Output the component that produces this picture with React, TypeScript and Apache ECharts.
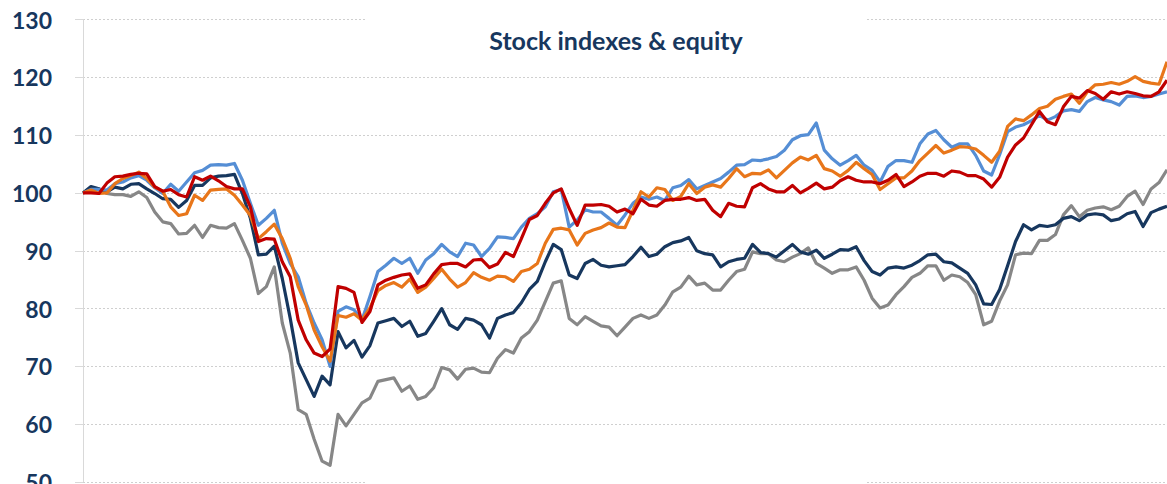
import React, { useEffect, useRef } from "react";
import * as echarts from "echarts";

const lightBlue = [
  100.0, 100.6, 100.6, 100.5, 101.6, 101.9, 102.6, 103.0, 102.2, 100.9,
  99.9, 101.5, 100.3, 101.9, 103.5, 103.9, 104.8, 104.9, 104.8, 105.1,
  102.2, 98.2, 94.4, 95.6, 97.0, 91.3, 87.8, 85.5, 80.9, 77.5,
  74.6, 70.0, 79.5, 80.3, 79.8, 78.0, 82.1, 86.4, 87.5, 88.7,
  87.8, 88.7, 86.1, 88.4, 89.5, 91.1, 89.8, 89.0, 91.3, 91.0,
  89.0, 90.4, 92.4, 92.3, 92.1, 94.1, 95.6, 96.4, 97.6, 100.2,
  100.6, 94.1, 95.3, 97.1, 96.7, 96.7, 95.6, 94.4, 96.2, 98.2,
  99.3, 98.9, 99.3, 98.7, 100.9, 101.3, 102.3, 100.7, 101.3, 101.9,
  102.5, 103.6, 104.8, 104.9, 105.7, 105.6, 105.9, 106.3, 107.4, 109.2,
  109.9, 110.1, 112.1, 107.4, 105.9, 104.8, 105.6, 106.5, 104.8, 103.9,
  101.9, 104.6, 105.6, 105.6, 105.3, 108.5, 110.2, 110.8, 109.2, 107.9,
  108.5, 108.5, 106.5, 103.8, 103.1, 106.6, 110.6, 111.4, 111.8, 112.5,
  113.4, 112.6, 113.2, 114.2, 114.4, 114.1, 115.8, 116.5, 116.1, 115.8,
  115.2, 116.7, 116.8, 116.5, 116.7, 117.1, 117.5,
];

const orange = [
  100.0, 100.5, 99.9, 100.0, 101.6, 102.5, 103.0, 103.6, 102.5, 101.0,
  100.3, 97.6, 96.1, 96.4, 99.6, 98.7, 100.5, 100.6, 100.7, 99.6,
  97.9, 96.1, 92.1, 93.3, 94.6, 92.1, 88.7, 83.8, 80.6, 76.3,
  73.4, 70.9, 78.8, 78.5, 79.1, 78.0, 80.1, 83.1, 84.0, 84.5,
  83.7, 85.1, 82.8, 83.7, 85.2, 86.8, 85.1, 83.7, 84.5, 86.2,
  85.4, 84.9, 85.6, 85.5, 84.7, 86.4, 86.8, 87.8, 91.3, 93.7,
  93.9, 93.6, 91.0, 93.0, 93.6, 94.0, 94.8, 94.1, 94.0, 97.0,
  100.2, 99.3, 100.9, 100.6, 98.7, 99.4, 101.6, 99.9, 101.0, 101.4,
  101.0, 102.5, 104.2, 102.8, 103.4, 103.3, 104.0, 102.6, 103.9, 105.2,
  106.2, 105.7, 106.5, 104.2, 103.8, 102.9, 103.9, 105.3, 104.2, 103.2,
  100.6, 101.6, 102.6, 102.6, 103.8, 105.6, 106.9, 108.2, 106.9, 107.4,
  108.0, 107.9, 107.6, 106.5, 105.3, 107.2, 111.5, 112.8, 112.5, 113.5,
  114.6, 115.0, 116.2, 116.7, 117.1, 115.5, 117.5, 118.7, 118.8, 119.1,
  118.8, 119.3, 120.1, 119.3, 119.0, 118.8, 122.7,
];

const red = [
  100.0, 100.0, 99.9, 101.7, 102.8, 102.9, 103.2, 103.4, 103.3, 101.1,
  100.3, 100.6, 99.7, 99.3, 102.8, 102.2, 102.9, 102.1, 101.1, 100.7,
  100.7, 97.6, 91.6, 92.1, 92.0, 88.1, 85.5, 78.0, 74.6, 72.3,
  71.7, 73.0, 83.8, 83.5, 82.8, 77.6, 79.5, 84.1, 84.9, 85.4,
  85.8, 86.0, 83.5, 84.1, 86.0, 87.6, 87.8, 87.8, 87.2, 88.4,
  88.5, 87.1, 87.7, 89.7, 89.0, 92.1, 95.4, 96.1, 98.2, 100.0,
  100.7, 97.3, 94.4, 97.9, 97.9, 98.0, 97.7, 96.7, 97.2, 96.4,
  98.9, 97.9, 97.7, 98.7, 98.9, 98.9, 99.2, 98.7, 98.9, 97.0,
  95.9, 98.2, 97.7, 97.6, 100.9, 101.6, 100.7, 100.2, 100.2, 101.3,
  100.0, 100.8, 101.7, 100.7, 101.0, 102.1, 102.8, 102.2, 101.9, 101.9,
  101.6, 102.2, 103.2, 101.1, 101.9, 102.9, 103.4, 103.4, 102.9, 103.8,
  103.6, 103.0, 103.0, 102.4, 101.0, 102.7, 106.2, 108.3, 109.5, 111.8,
  114.1, 112.3, 111.8, 114.9, 116.7, 116.4, 117.7, 117.2, 116.2, 117.5,
  117.1, 117.5, 117.2, 116.8, 116.7, 117.5, 119.5,
];

const navy = [
  100.0, 101.1, 100.7, 100.2, 101.0, 100.7, 101.5, 101.6, 100.7, 99.9,
  99.0, 98.9, 97.5, 98.7, 101.3, 101.3, 102.6, 102.9, 103.0, 103.2,
  99.9, 95.6, 89.3, 89.4, 90.8, 85.2, 78.3, 70.6, 67.7, 64.8,
  68.3, 66.8, 76.0, 73.2, 74.5, 71.6, 73.6, 77.5, 77.9, 78.3,
  76.9, 77.8, 75.2, 75.7, 77.8, 80.0, 77.2, 76.4, 78.3, 78.0,
  77.2, 74.9, 78.3, 78.9, 79.3, 81.0, 83.3, 84.7, 88.1, 91.1,
  90.2, 85.8, 85.2, 87.8, 88.5, 87.5, 87.2, 87.4, 87.6, 89.0,
  90.6, 89.0, 89.4, 90.7, 91.4, 91.7, 92.3, 90.0, 89.5, 89.3,
  87.2, 88.1, 88.5, 88.7, 91.1, 89.7, 89.5, 88.9, 90.0, 91.1,
  89.8, 89.4, 90.1, 88.7, 89.4, 90.2, 90.1, 90.7, 88.3, 86.4,
  85.8, 87.0, 87.2, 87.0, 87.5, 88.3, 89.3, 89.4, 88.1, 87.9,
  87.0, 86.1, 84.1, 80.8, 80.7, 83.3, 87.4, 91.6, 94.5, 93.6,
  94.4, 94.2, 94.5, 95.6, 95.9, 95.2, 96.2, 96.4, 96.2, 95.2,
  95.5, 96.4, 96.8, 94.2, 96.6, 97.2, 97.7,
];

const gray = [
  100.0, 100.9, 100.7, 99.9, 99.7, 99.7, 99.4, 100.2, 99.2, 96.7,
  95.0, 94.7, 92.9, 93.0, 94.4, 92.3, 94.4, 94.0, 93.9, 94.7,
  91.8, 88.7, 82.6, 83.8, 87.2, 77.5, 72.3, 62.5, 61.7, 57.4,
  53.6, 52.9, 61.7, 59.7, 61.7, 63.7, 64.5, 67.4, 67.7, 68.0,
  65.7, 66.6, 64.3, 64.8, 66.3, 69.8, 69.4, 67.8, 69.5, 69.7,
  69.0, 68.9, 71.4, 72.9, 72.3, 74.9, 76.0, 78.0, 81.2, 84.4,
  84.8, 78.3, 77.2, 78.6, 77.8, 77.0, 76.8, 75.3, 76.8, 78.3,
  78.9, 78.3, 78.9, 80.6, 82.9, 83.7, 85.6, 84.1, 84.4, 83.2,
  83.2, 84.9, 86.4, 86.8, 89.8, 89.5, 89.5, 88.4, 88.1, 88.9,
  89.5, 90.5, 87.8, 87.0, 86.1, 86.7, 86.7, 87.2, 84.9, 81.8,
  80.1, 80.6, 82.4, 83.8, 85.4, 86.1, 87.4, 87.4, 84.9, 85.8,
  85.5, 84.5, 82.4, 77.2, 77.8, 81.3, 84.1, 89.3, 89.6, 89.5,
  91.8, 91.8, 92.8, 96.2, 97.8, 95.9, 97.0, 97.4, 97.6, 97.1,
  97.7, 99.4, 100.3, 98.0, 100.7, 101.8, 104.0,
];

const categories = lightBlue.map((_, i) => String(i + 1));
const yTicks = { min: 50, max: 130, interval: 10 };
const titleText = "Stock indexes & equity";

const NAVY = "#17375E";
const FONT = "Lato, 'Noto Sans', sans-serif";
const W = 1167;
const H = 484;

export default function App() {
  const ref = useRef<HTMLDivElement>(null);
  useEffect(() => {
    if (!ref.current) return;
    const chart = echarts.init(ref.current, undefined, { renderer: "svg", width: W, height: H });
    const mk = (name: string, data: number[], color: string, z: number) => ({
      name,
      type: "line",
      data,
      symbol: "none",
      z,
      lineStyle: { color, width: 3.2, join: "round" },
      itemStyle: { color },
    });
    chart.setOption({
      animation: false,
      backgroundColor: "#ffffff",
      grid: {
        left: 83,
        right: 0,
        top: 19.5,
        bottom: 2,
        containLabel: false,
        outerBoundsMode: "none",
      },
      xAxis: {
        type: "category",
        data: categories,
        boundaryGap: false,
        axisLine: { show: false },
        axisTick: { show: false },
        axisLabel: { show: false },
        splitLine: { show: false },
      },
      yAxis: {
        type: "value",
        min: yTicks.min,
        max: yTicks.max,
        interval: yTicks.interval,
        axisLine: { show: true, lineStyle: { color: "#D9D9D9", width: 1 } },
        axisTick: { show: true, length: 8, lineStyle: { color: "#D9D9D9", width: 1 } },
        axisLabel: {
          color: NAVY,
          fontWeight: "bold",
          fontSize: 23,
          fontFamily: FONT,
          margin: 31,
        },
        splitLine: {
          show: true,
          lineStyle: { color: "#CFCFCF", type: [2, 2], width: 1 },
        },
      },
      graphic: [
        { type: "rect", z: 1, shape: { x: 367, y: 0, width: 500, height: 30 }, style: { fill: "#ffffff" } },
        { type: "rect", z: 1, shape: { x: 367, y: 472, width: 500, height: 12 }, style: { fill: "#ffffff" } },
        {
          type: "text",
          z: 10,
          x: 616,
          y: 40,
          style: {
            text: titleText,
            fill: NAVY,
            font: `bold 25px ${FONT}`,
            textAlign: "center",
            textVerticalAlign: "middle",
          },
        },
      ],
      series: [
        mk("Gray", gray, "#878787", 2),
        mk("Navy", navy, NAVY, 3),
        mk("Light blue", lightBlue, "#558ED5", 4),
        mk("Orange", orange, "#E8761A", 5),
        mk("Red", red, "#C00000", 6),
      ],
    });
    return () => chart.dispose();
  }, []);
  return (
    <div
      ref={ref}
      style={{ position: "absolute", left: 0, top: 0, width: W, height: H, background: "#fff" }}
    />
  );
}
